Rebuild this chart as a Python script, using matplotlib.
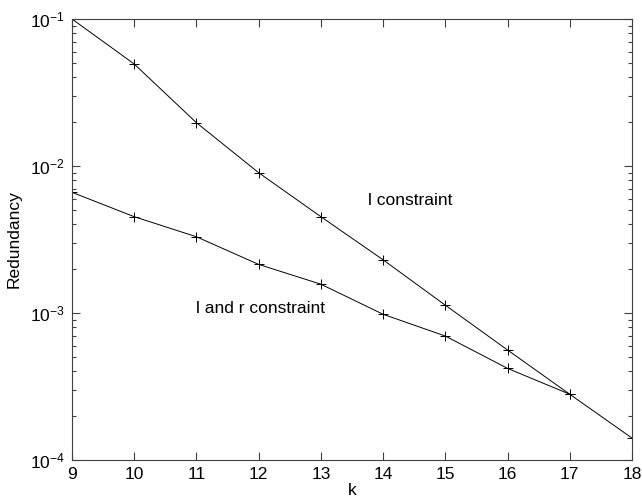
import matplotlib
matplotlib.use("Agg")
import matplotlib.pyplot as plt
from matplotlib.ticker import LogLocator, NullFormatter

plt.rcParams['font.family'] = ['Liberation Sans', 'DejaVu Sans']
plt.rcParams['mathtext.fontset'] = 'custom'
plt.rcParams['mathtext.rm'] = 'Liberation Sans'
plt.rcParams['mathtext.it'] = 'Liberation Sans'
plt.rcParams['mathtext.default'] = 'regular'

k_l = [9, 10, 11, 12, 13, 14, 15, 16, 17, 18]
red_l = [0.1, 0.0494, 0.0197, 0.0090, 0.00452, 0.0023, 0.00113, 0.00056, 0.00028, 0.000141]

k_lr = [9, 10, 11, 12, 13, 14, 15, 16, 17]
red_lr = [0.00662, 0.00452, 0.0033, 0.00214, 0.00157, 0.00098, 0.000697, 0.00042, 0.00028]

xticks = list(range(9, 19))

fig = plt.figure(figsize=(6.42, 4.98), dpi=100)
ax = fig.add_axes([72/642, 38/498, 560/642, 441/498])

ax.plot(k_l, red_l, color='black', lw=0.7, marker='+', ms=7, mew=0.7)
ax.plot(k_lr, red_lr, color='black', lw=0.7, marker='+', ms=7, mew=0.7)

ax.set_yscale('log')
ax.set_xlim(9, 18)
ax.set_ylim(1e-4, 1e-1)
ax.set_xticks(xticks)
ax.set_xticklabels([str(t) for t in xticks])
ax.yaxis.set_major_locator(LogLocator(base=10, numticks=10))
ax.yaxis.set_minor_locator(LogLocator(base=10, subs=range(2, 10), numticks=20))
ax.yaxis.set_minor_formatter(NullFormatter())

for s in ax.spines.values():
    s.set_color('#404040')
    s.set_linewidth(0.8)
ax.tick_params(which='both', direction='in', top=True, right=True, color='#404040', labelsize=12.5, width=0.8)
ax.tick_params(which='major', length=6, pad=5)
ax.tick_params(which='minor', length=3)

ax.text(13.76, 0.00587, 'l constraint', fontsize=12.5, va='center', ha='left')
ax.text(11.0, 0.00108, 'l and r constraint', fontsize=12.5, va='center', ha='left')

ax.set_xlabel('k', fontsize=12.5, labelpad=1)
ax.set_ylabel('Redundancy', fontsize=12.5, labelpad=6)

fig.savefig('out.png', dpi=100)
